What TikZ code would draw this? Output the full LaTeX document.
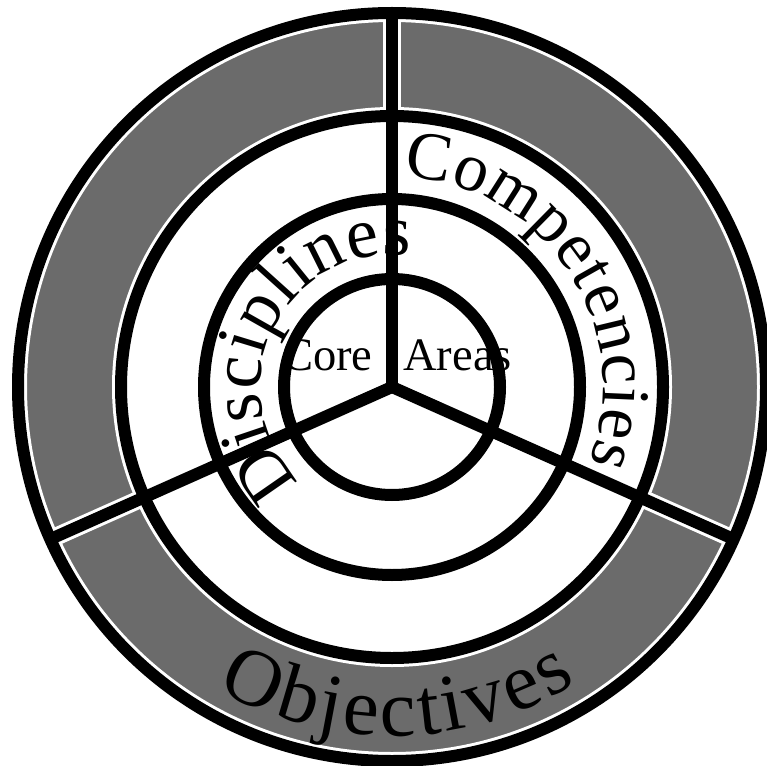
\documentclass[tikz,border=0pt]{standalone}
\usepackage{fontspec}
\setmainfont{Liberation Serif}
\usepackage{tikz}
\usetikzlibrary{decorations.text}

\newcommand{\ringfont}{\fontsize{41}{46}\selectfont}
\newcommand{\compfont}{\fontsize{39}{44}\selectfont}
\newcommand{\bandfont}{\fontsize{46}{52}\selectfont}
\newcommand{\corefont}{\fontsize{26.5}{30}\selectfont}

\begin{document}
\begin{tikzpicture}[
        x=0.02cm, y=0.02cm,
        ring/.style={draw=black, line width=0.24cm},
        halo/.style={draw=white, line width=0.36cm},
        band/.style={fill=black!58},
        curved/.style={decorate, decoration={text along path, text align={fit to path}, text format delimiters={|}{|}}}
    ]
        \useasboundingbox (0,0) rectangle (767,765);
        \coordinate (c) at (392,378);

        % Shaded outer band
        \fill[band, even odd rule] (c) circle[radius=374] (c) circle[radius=271];

        % White gaps round the lines
        \draw[halo] (c) circle[radius=374];
        \draw[halo] (c) circle[radius=271];
        \foreach \a in {90,204,336}
            \draw[halo] (c) -- ++(\a:374);

        % Rings
        \draw[ring] (c) circle[radius=374];
        \draw[ring] (c) circle[radius=271];
        \draw[ring] (c) circle[radius=188];
        \draw[ring] (c) circle[radius=108];

        % Spokes
        \foreach \a in {90,204,336}
            \draw[ring] (c) -- ++(\a:374);

        % Labels
        \node[anchor=base east, inner sep=0pt, font=\corefont] (core) at (373,395) {Core};
        \node[anchor=base west, inner sep=0pt, font=\corefont] (areas) at (403,395) {Areas};

        \path[curved, decoration={text={|\ringfont|Disciplines}}]
            (c) ++(226:132) arc[start angle=226, end angle=82, radius=132];
        \path[curved, decoration={text={|\compfont|Competencies}}]
            (c) ++(87:211) arc[start angle=87, end angle=-21, radius=211];
        \path[curved, decoration={text={|\bandfont|Objectives}}]
            (c) ++(240:349) arc[start angle=240, end angle=302, radius=349];

    \end{tikzpicture}
\end{document}
